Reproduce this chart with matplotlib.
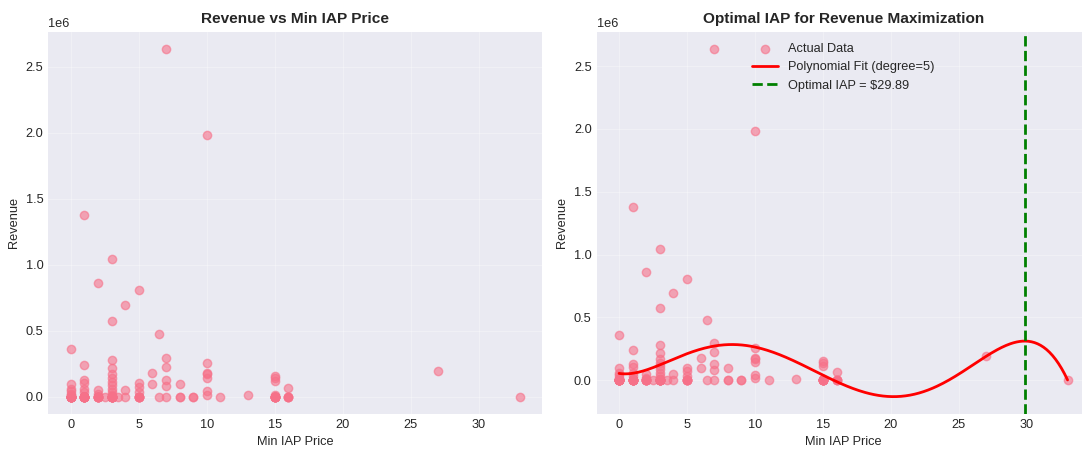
import numpy as np
import matplotlib
matplotlib.use("Agg")
import matplotlib.pyplot as plt
import seaborn as sns

# Min IAP price per app and its revenue
min_iap_price = [
    0, 0, 0, 0, 0, 0, 0, 0, 0, 0, 0, 0, 0, 0, 0, 0, 0, 0, 0, 0, 0,
    1, 1, 1, 1, 1, 1, 1, 1, 1, 1, 1, 1, 1, 1, 1, 1, 1, 1,
    2, 2, 2, 2, 2, 2, 2, 2, 2, 2, 2,
    2.5,
    3, 3, 3, 3, 3, 3, 3, 3, 3, 3, 3, 3, 3, 3, 3, 3, 3, 3, 3, 3, 3, 3, 3,
    3.5,
    4, 4, 4,
    5, 5, 5, 5, 5, 5, 5, 5, 5, 5,
    6, 6,
    6.5, 6.5,
    7, 7, 7, 7, 7, 7,
    8, 8, 8,
    9, 9,
    10, 10, 10, 10, 10, 10, 10,
    11,
    13,
    15, 15, 15, 15, 15, 15, 15, 15, 15, 15, 15, 15, 15, 15,
    16, 16, 16, 16, 16,
    27,
    33,
]
revenue = [
    361000, 96000, 60000, 40000, 20000, 10000,
    0, 0, 0, 0, 0, 0, 0, 0, 0, 0, 0, 0, 0, 0, 0,
    1375000, 242000, 126000, 104000, 58000, 35000,
    0, 0, 0, 0, 0, 0, 0, 0, 0, 0, 0, 0,
    861000, 50000, 20000, 0, 0, 0, 0, 0, 0, 0, 0,
    0,
    1043000, 573000, 280000, 217000, 172000, 140000, 110000, 85000, 60000, 35000, 10000,
    0, 0, 0, 0, 0, 0, 0, 0, 0, 0, 0, 0,
    0,
    692000, 50000, 0,
    805000, 100000, 70000, 35000, 0, 0, 0, 0, 0, 0,
    180000, 96000,
    475000, 0,
    2636000, 293000, 222000, 126000, 83000, 0,
    96000, 0, 0,
    0, 0,
    1985000, 255000, 180000, 170000, 142000, 45000, 15000,
    0,
    13000,
    154000, 140000, 116000, 10000, 0, 0, 0, 0, 0, 0, 0, 0, 0, 0,
    63000, 0, 0, 0, 0,
    195000,
    0,
]
poly_degree = 5
optimal_iap = 29.89

plt.style.use("seaborn-v0_8-darkgrid")
sns.set_palette("husl")
plt.rcParams["font.family"] = ["Liberation Sans", "DejaVu Sans"]
plt.rcParams["font.size"] = 9.2

x = np.array(min_iap_price, dtype=float)
y = np.array(revenue, dtype=float)

# degree-5 polynomial fit of revenue against price
coeffs = np.polyfit(x, y, poly_degree)
x_fit = np.linspace(x.min(), x.max(), 300)
y_fit = np.polyval(coeffs, x_fit)

fig = plt.figure(figsize=(10.82, 4.51), dpi=100)
ax1 = fig.add_axes([48.3 / 1082, 0.082, 493.7 / 1082, 0.848])
ax2 = fig.add_axes([596.6 / 1082, 0.082, 493.4 / 1082, 0.848])

ax1.scatter(x, y, alpha=0.6)
ax1.set_title("Revenue vs Min IAP Price", fontweight="bold", fontsize=11.1)
ax1.set_xlabel("Min IAP Price")
ax1.set_ylabel("Revenue")
ax1.grid(True, alpha=0.3)

ax2.scatter(x, y, alpha=0.6, label="Actual Data")
ax2.plot(x_fit, y_fit, color="red", linewidth=2,
         label=f"Polynomial Fit (degree={poly_degree})")
ax2.axvline(optimal_iap, color="green", linestyle="--", linewidth=2,
            label=f"Optimal IAP = \\${optimal_iap:.2f}")
ax2.set_title("Optimal IAP for Revenue Maximization", fontweight="bold", fontsize=11.1)
ax2.set_xlabel("Min IAP Price")
ax2.set_ylabel("Revenue")
ax2.grid(True, alpha=0.3)
ax2.legend(loc="upper center")

fig.savefig("out.png", dpi=100)
